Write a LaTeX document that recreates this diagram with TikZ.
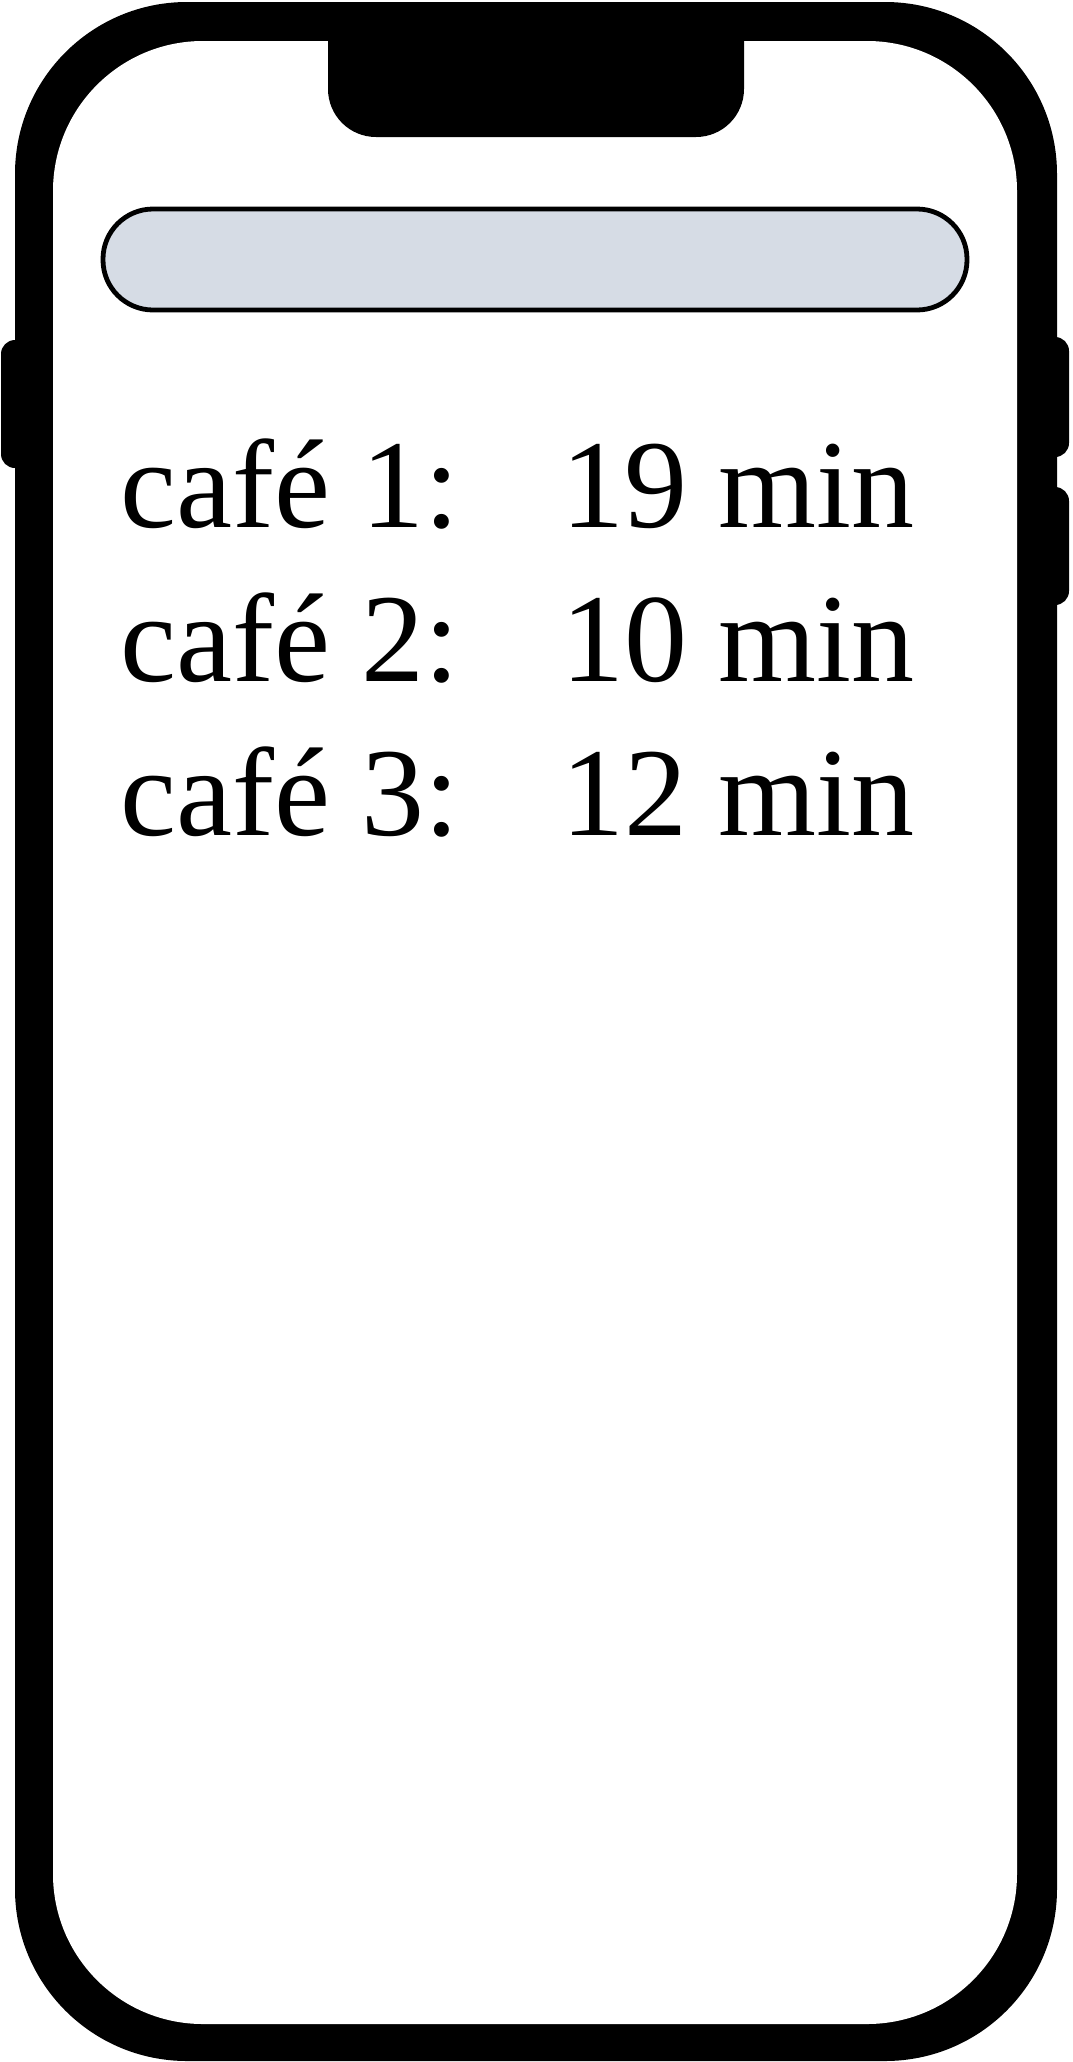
\documentclass[tikz,border=0pt]{standalone}
\usepackage{fontspec}
\setmainfont{Liberation Serif}
\definecolor{barfill}{RGB}{214,220,229}
\tikzset{
  rowtext/.style={anchor=base west,inner sep=0pt,font=\fontsize{63}{75}\selectfont},
  sidekey/.style={fill=black,rounded corners=7pt},
}
\begin{document}
\begin{tikzpicture}[x=0.5pt,y=-0.5pt]
    \useasboundingbox (0,0) rectangle (1072,2062);

    % side keys
    \fill[sidekey] (1,340) rectangle (40,468);
    \fill[sidekey] (1030,337) rectangle (1069,457);
    \fill[sidekey] (1030,487) rectangle (1069,605);

    % body
    \fill[black,rounded corners=86pt] (15,2) rectangle (1057,2061);
    \fill[white,rounded corners=75pt] (53,41) rectangle (1017,2024);

    % notch
    \fill[black,rounded corners=24pt] (328,30) -- (328,137) -- (744,137) -- (744,30);

    % search bar
    \draw[black,line width=2.4pt,fill=barfill,rounded corners=25pt] (103,209) rectangle (967,310);

    % list
    \node[rowtext] (cafeA) at (120,527) {café 1:};
    \node[rowtext] (timeA) at (561,527) {19 min};
    \node[rowtext] (cafeB) at (120,681) {café 2:};
    \node[rowtext] (timeB) at (561,681) {10 min};
    \node[rowtext] (cafeC) at (120,835) {café 3:};
    \node[rowtext] (timeC) at (561,835) {12 min};

\end{tikzpicture}
\end{document}
